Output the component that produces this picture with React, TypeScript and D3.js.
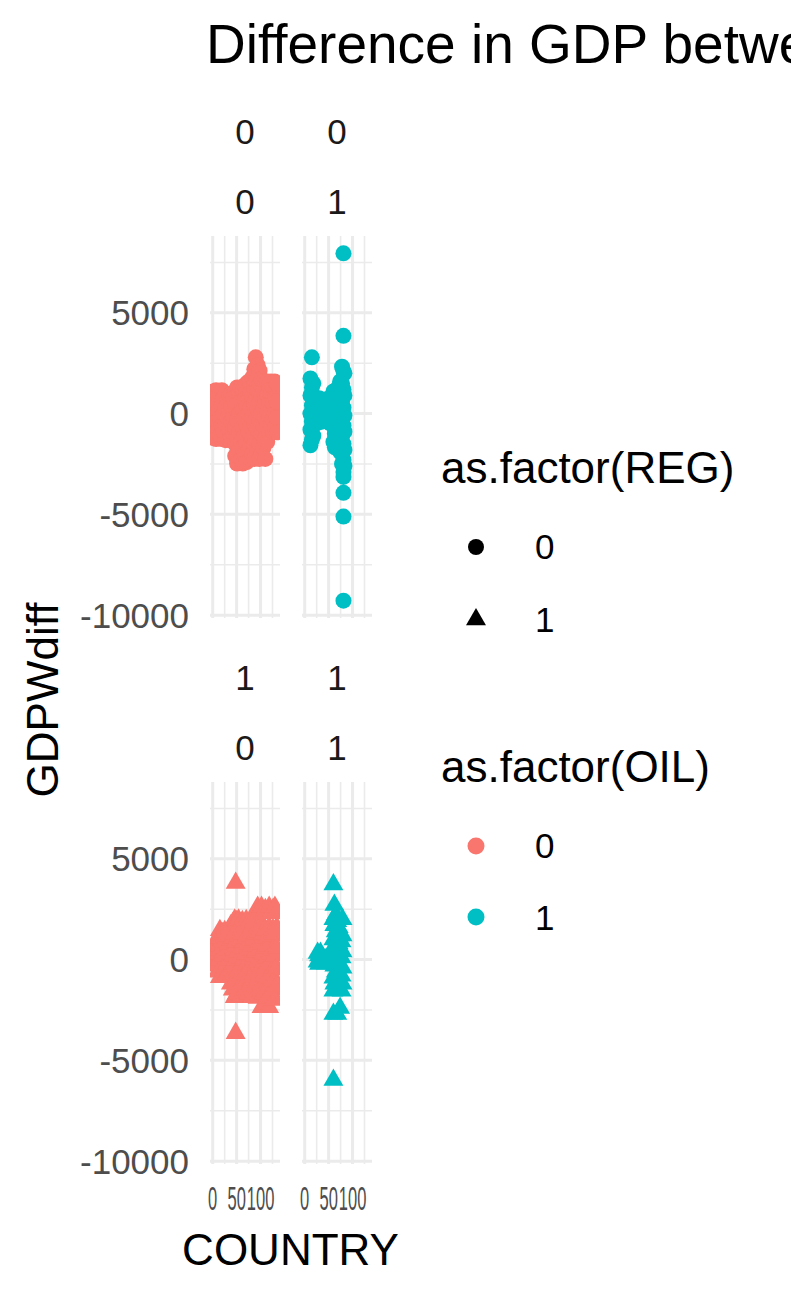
import React, { useEffect, useRef } from "react";
import * as d3 from "d3";

// each entry: [COUNTRY, GDPWdiff values for that country]
const reg0oil0: [number, number[]][] = [
  [1, [1100, 300, -500, -1200]], [4, [800, -100, -1000]], [7, [1160, 500, -300, -1260]],
  [11, [900, 100, -800]], [15, [1000, -200, -1100]], [19, [1160, 400, -600, -1260]],
  [23, [800, 0, -900]], [27, [1000, 300, -500, -1320]], [31, [700, -200, -1100]],
  [35, [900, 100, -800, -1320]], [39, [1000, 400, -400, -1200]], [43, [800, -100, -1000]],
  [47, [1100, 300, -700, -1500, -2100]], [51, [1300, 500, -300, -1200, -2480]],
  [55, [1000, 0, -900, -1800]], [59, [1300, 600, -400, -1400, -2300]],
  [63, [1200, 200, -700, -1700, -2480]], [67, [1400, 700, -200, -1100, -2000]],
  [71, [1500, 400, -600, -1500, -2400]], [75, [1590, 800, 0, -900, -1800]],
  [79, [1500, 1000, 300, -600, -1600, -2250]], [83, [1800, 900, -100, -1200, -2000]],
  [87, [2200, 1300, 500, -500, -1500, -2250]], [90, [2790, 1600, 700, -300, -1300]],
  [94, [2400, 1100, 200, -800, -1900]], [98, [2130, 1500, 600, -400, -1500, -2250]],
  [102, [1700, 900, 0, -1000, -2000]], [106, [1590, 1100, 300, -600, -1700]],
  [110, [1500, 700, -200, -1200, -2250]], [114, [1590, 900, 100, -500, -1400]],
  [118, [1400, 600, -100, -930]], [122, [1590, 1000, 200, -600]],
  [126, [1300, 500, -300, -930]], [130, [1590, 800, 0, -700]], [134, [1500, 600, -200, -930]],
];

const reg0oil1: [number, number[]][] = [
  [12, [1740, 900, 0, -800, -1570]], [15, [2790, 1300, 400, -400, -1300]],
  [18, [1500, 600, -300, -1100]], [24, [700, 0, -500]], [30, [760, 200, -400]],
  [36, [600, -100, -400]], [42, [700, 100, -300]], [48, [600, -200, -400]],
  [54, [800, 0, -500]], [60, [1100, 300, -600, -1400]], [63, [900, 0, -1000, -1670]],
  [66, [1000, 200, -700, -1300]], [70, [1300, 500, -400, -1500]],
  [74, [1600, 700, -200, -1200, -1900]], [78, [2330, 1500, 600, -300, -1100, -2000, -2500]],
  [81, [7950, 3860, 2100, 1200, 300, -600, -1500, -2300, -2900, -3140, -3930, -5110, -9280]],
  [83, [2000, 900, -100, -900, -1800, -2600]],
];

const reg1oil0: [number, number[]][] = [
  [2, [600, 200, -150]], [6, [800, 300, -300]], [10, [1100, 500, -200, -600]],
  [15, [1455, 700, 0, -870]], [20, [1300, 600, -300, -800]], [25, [1400, 900, 200, -500, -870]],
  [30, [1200, 500, -200, -700]], [34, [1455, 800, 0, -600]], [38, [1700, 1000, 300, -500, -1200]],
  [42, [1800, 1100, 200, -700, -1500]], [46, [1970, 1300, 500, -300, -1100, -1870]],
  [48, [3800, -3650]], [50, [1900, 900, 0, -900, -1700]], [54, [1970, 1200, 400, -500, -1400]],
  [58, [1800, 1000, 100, -800, -1870]], [62, [1900, 1300, 600, -200, -1200]],
  [66, [1700, 900, 0, -1000, -1800]], [70, [1950, 1100, 300, -600, -1500]],
  [74, [1800, 800, -100, -900, -1700]], [78, [1900, 1200, 500, -400, -1300]],
  [82, [1600, 700, -200, -1100, -1870]], [86, [1900, 1000, 200, -700, -1500]],
  [90, [2200, 1300, 400, -500, -1300]], [94, [2610, 1600, 700, -100, -1000, -1900]],
  [98, [2400, 1400, 500, -600, -1500]], [102, [2610, 1700, 800, -300, -1200, -2360]],
  [106, [2300, 1300, 300, -800, -1700]], [110, [2500, 1500, 600, -400, -1400, -2200]],
  [114, [2400, 1100, 100, -900, -1900]], [118, [2610, 1600, 700, -200, -1300, -2360]],
  [122, [2300, 1200, 300, -700, -1600]], [126, [2500, 1500, 500, -500, -1500]],
  [130, [2610, 1300, 200, -1000, -2000]], [134, [2400, 1600, 600, -400, -1300]],
];

const reg1oil1: [number, number[]][] = [
  [27, [330, -100]], [30, [200, -220]], [33, [330, 0]], [38, [100, -150]],
  [44, [0, -200]], [50, [100, -150]], [56, [200, -100]],
  [60, [3730, 2000, 1000, 0, -900, -1550, -2700, -5970]],
  [62, [2710, 1700, 700, -300, -1200]], [65, [2220, 1400, 400, -600, -1500]],
  [68, [1900, 1000, 0, -1000, -2700]], [71, [1600, 800, 200, -700, -1400]],
  [74, [1200, 500, -300, -1100, -2400]], [77, [900, 100, -800, -1550]],
  [79, [2000, 1200, 400, -400, -1200]],
];

const regLevels = ["0", "1"];
const oilLevels = ["0", "1"];
const oilColors = ["#F8766D", "#00BFC4"];
const yMajor = [-10000, -5000, 0, 5000];
const yMinor = [-7500, -2500, 2500, 7500];
const yTickLabels = ["-10000", "-5000", "0", "5000"];
const xMajor = [0, 50, 100];
const xMinor = [25, 75, 125];
const xTickLabels = ["0", "50", "100"];
const titleText = "Difference in GDP between oil and non-oil countries by regime";

const FONT = "'Liberation Sans', Arial, Helvetica, sans-serif";

function App() {
  const ref = useRef<SVGSVGElement>(null);

  useEffect(() => {
    const svg = d3.select(ref.current);
    svg.selectAll("*").remove();

    const panels = [
      { reg: 0, oil: 0, data: reg0oil0 },
      { reg: 0, oil: 1, data: reg0oil1 },
      { reg: 1, oil: 0, data: reg1oil0 },
      { reg: 1, oil: 1, data: reg1oil1 },
    ].map((p) => ({
      ...p,
      pts: p.data.flatMap(([c, vals]) => vals.map((v) => ({ c, v }))),
    }));

    const all = panels.flatMap((p) => p.pts);
    const [x0, x1] = d3.extent(all, (d) => d.c) as [number, number];
    const [y0, y1] = d3.extent(all, (d) => d.v) as [number, number];
    const ex = (x1 - x0) * 0.05, ey = (y1 - y0) * 0.05;

    const panelW = 70, panelH = 382;
    const colLeft = [210, 302];
    const rowTop = [236, 782];

    const x = d3.scaleLinear().domain([x0 - ex, x1 + ex]).range([0, panelW]);
    const y = d3.scaleLinear().domain([y0 - ey, y1 + ey]).range([panelH, 0]);

    const tri = d3.symbol(d3.symbolTriangle, 173);
    const defs = svg.append("defs");

    panels.forEach((p, i) => {
      const col = p.oil, row = p.reg;
      const g = svg.append("g").attr("transform", `translate(${colLeft[col]},${rowTop[row]})`);

      defs.append("clipPath").attr("id", "clip" + i)
        .append("rect").attr("width", panelW).attr("height", panelH);

      // grid
      g.selectAll(".ymin").data(yMinor).enter().append("line")
        .attr("x1", 0).attr("x2", panelW).attr("y1", (d) => y(d)).attr("y2", (d) => y(d))
        .attr("stroke", "#EBEBEB").attr("stroke-width", 1.6);
      g.selectAll(".xmin").data(xMinor).enter().append("line")
        .attr("y1", 0).attr("y2", panelH).attr("x1", (d) => x(d)).attr("x2", (d) => x(d))
        .attr("stroke", "#EBEBEB").attr("stroke-width", 1.6);
      g.selectAll(".ymaj").data(yMajor).enter().append("line")
        .attr("x1", 0).attr("x2", panelW).attr("y1", (d) => y(d)).attr("y2", (d) => y(d))
        .attr("stroke", "#EBEBEB").attr("stroke-width", 3);
      g.selectAll(".xmaj").data(xMajor).enter().append("line")
        .attr("y1", 0).attr("y2", panelH).attr("x1", (d) => x(d)).attr("x2", (d) => x(d))
        .attr("stroke", "#EBEBEB").attr("stroke-width", 3);

      // points
      const pg = g.append("g").attr("clip-path", `url(#clip${i})`);
      if (p.reg === 0) {
        pg.selectAll("circle").data(p.pts).enter().append("circle")
          .attr("cx", (d) => x(d.c)).attr("cy", (d) => y(d.v)).attr("r", 8)
          .attr("fill", oilColors[p.oil]);
      } else {
        pg.selectAll("path").data(p.pts).enter().append("path")
          .attr("d", tri as any)
          .attr("transform", (d) => `translate(${x(d.c)},${y(d.v)})`)
          .attr("fill", oilColors[p.oil]);
      }

      // strips
      const cx = colLeft[col] + panelW / 2;
      svg.append("text").attr("x", cx).attr("y", rowTop[row] - 92)
        .attr("text-anchor", "middle").attr("font-size", 35).attr("fill", "#1A1A1A")
        .attr("font-family", FONT).text(regLevels[p.reg]);
      svg.append("text").attr("x", cx).attr("y", rowTop[row] - 22)
        .attr("text-anchor", "middle").attr("font-size", 35).attr("fill", "#1A1A1A")
        .attr("font-family", FONT).text(oilLevels[p.oil]);

      // y axis labels on left column
      if (col === 0) {
        g.selectAll(".ylab").data(yMajor).enter().append("text")
          .attr("x", -21).attr("y", (d) => y(d) + 12.5)
          .attr("text-anchor", "end").attr("font-size", 35).attr("fill", "#4D4D4D")
          .attr("font-family", FONT).text((d, j) => yTickLabels[j]);
      }
      // x axis labels on bottom row (squeezed, overlapping as in the source)
      if (row === 1) {
        g.selectAll(".xlab").data(xMajor).enter().append("text")
          .attr("transform", (d) => `translate(${x(d)},${panelH + 46}) scale(0.5,1)`)
          .attr("text-anchor", "middle").attr("font-size", 33).attr("fill", "#4D4D4D")
          .attr("font-family", FONT).text((d, j) => xTickLabels[j]);
      }
    });

    // titles
    svg.append("text").attr("x", 206).attr("y", 63).attr("font-size", 55)
      .attr("font-family", FONT).attr("fill", "#000").text(titleText);
    svg.append("text").attr("x", 290.5).attr("y", 1265).attr("text-anchor", "middle")
      .attr("font-size", 44).attr("font-family", FONT).attr("fill", "#000").text("COUNTRY");
    svg.append("text").attr("transform", "translate(58,700) rotate(-90)")
      .attr("text-anchor", "middle").attr("font-size", 44).attr("font-family", FONT)
      .attr("fill", "#000").text("GDPWdiff");

    // legend: shape (REG)
    const lg = svg.append("g");
    lg.append("text").attr("x", 441).attr("y", 483).attr("font-size", 44)
      .attr("font-family", FONT).text("as.factor(REG)");
    lg.append("circle").attr("cx", 476).attr("cy", 547).attr("r", 8).attr("fill", "#000");
    lg.append("path").attr("d", tri as any).attr("transform", "translate(476,619.5)").attr("fill", "#000");
    regLevels.forEach((lvl, j) => {
      lg.append("text").attr("x", 535).attr("y", [559, 631.5][j]).attr("font-size", 35)
        .attr("font-family", FONT).text(lvl);
    });

    // legend: colour (OIL)
    lg.append("text").attr("x", 441).attr("y", 782).attr("font-size", 44)
      .attr("font-family", FONT).text("as.factor(OIL)");
    oilLevels.forEach((lvl, j) => {
      lg.append("circle").attr("cx", 476).attr("cy", [846, 917][j]).attr("r", 8.5)
        .attr("fill", oilColors[j]);
      lg.append("text").attr("x", 535).attr("y", [858, 930][j]).attr("font-size", 35)
        .attr("font-family", FONT).text(lvl);
    });
  }, []);

  return (
    <svg
      ref={ref}
      width={791}
      height={1294}
      style={{ position: "absolute", left: 0, top: 0, background: "#fff" }}
    />
  );
}

export default App;
